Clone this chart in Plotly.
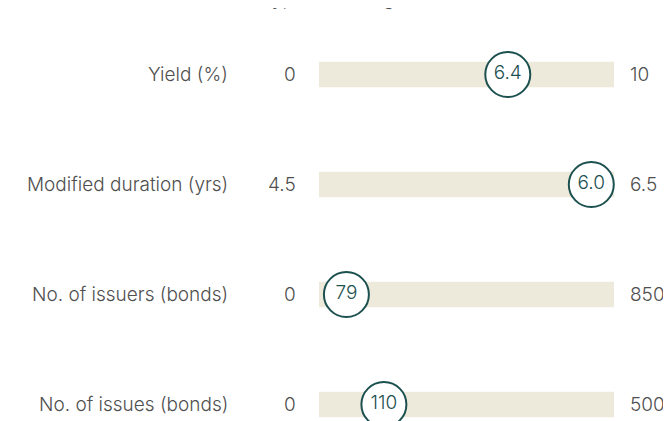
import plotly.graph_objects as go

# ---------------------------------------
# Data
# ---------------------------------------
title_text = "Typical holdings"
metrics = ["Yield (%)", "Modified duration (yrs)", "No. of issuers (bonds)", "No. of issues (bonds)"]
values = [6.4, 6.0, 79, 110]
value_labels = ["6.4", "6.0", "79", "110"]
range_min = ["0", "4.5", "0", "0"]
range_max = [10, 6.5, 850, 500]
range_max_labels = ["10", "6.5", "850", "500"]

# position along the bar = value / max (as in the original chart)
pos = [v / m for v, m in zip(values, range_max)]
rows = list(range(len(metrics)))

TEXT = "#4f4f4f"
TEAL = "#1d5150"
BAR = "#eeeadb"
FONT = "Inter"
FS = 19

fig = go.Figure()

fig.add_trace(
    go.Bar(
        x=[1] * len(rows),
        y=rows,
        base=0,
        orientation="h",
        width=0.23,
        marker=dict(color=BAR, line=dict(width=0)),
        hoverinfo="skip",
    )
)

fig.add_trace(
    go.Scatter(
        x=pos,
        y=rows,
        mode="markers+text",
        text=value_labels,
        textposition="middle center",
        textfont=dict(family=FONT, size=FS, color=TEAL, weight=300),
        marker=dict(size=45, color="white", line=dict(color=TEAL, width=2)),
        hoverinfo="skip",
    )
)

annotations = []
for i in rows:
    annotations.append(dict(x=-0.301, y=i, text=metrics[i], xanchor="right", showarrow=False))
    annotations.append(dict(x=-0.071, y=i, text=range_min[i], xanchor="right", showarrow=False))
    annotations.append(dict(x=1.047, y=i, text=range_max_labels[i], xanchor="left", showarrow=False))

annotations.append(
    dict(
        x=0.4845, y=1, xref="paper", yref="paper", text=title_text,
        xanchor="center", yanchor="middle", yshift=10, showarrow=False,
        font=dict(family=FONT, size=FS, color=TEXT, weight=300),
    )
)

fig.update_layout(
    width=671,
    height=421,
    margin=dict(l=0, r=0, t=0, b=0),
    paper_bgcolor="white",
    plot_bgcolor="white",
    showlegend=False,
    font=dict(family=FONT, size=FS, color=TEXT, weight=300),
    xaxis=dict(range=[-1.0542, 1.2204], visible=False, fixedrange=True),
    yaxis=dict(range=[3.2227, -0.6045], visible=False, fixedrange=True),
    annotations=annotations,
)

fig.write_html("out.html", config={"displayModeBar": False})
